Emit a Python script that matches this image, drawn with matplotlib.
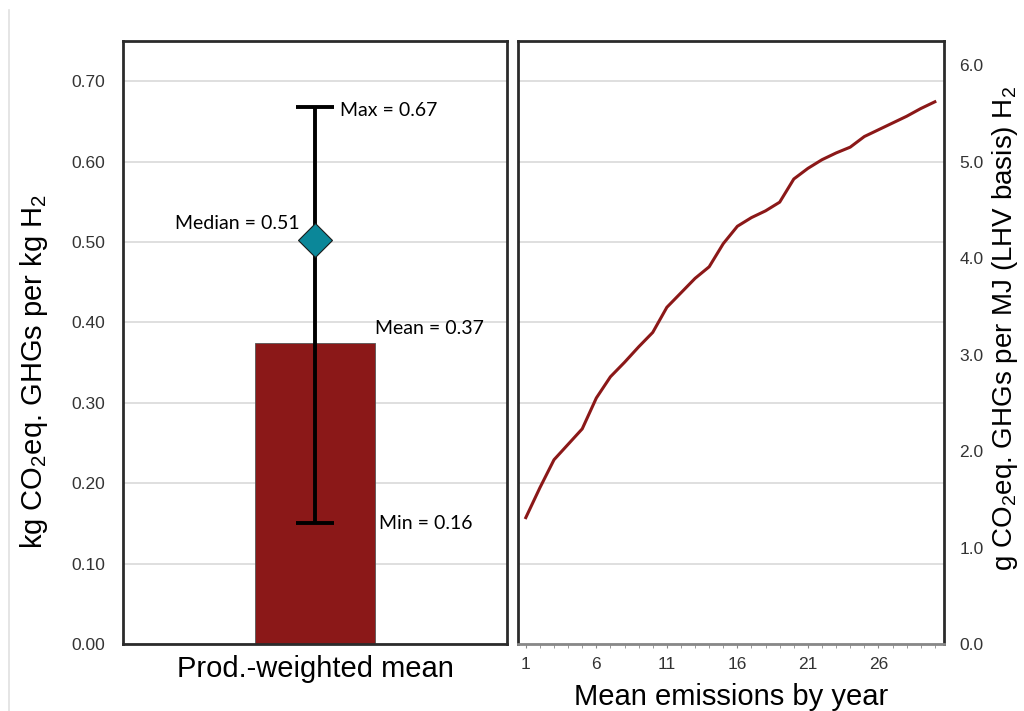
import numpy as np
import matplotlib
matplotlib.use("Agg")
import matplotlib.pyplot as plt
from matplotlib.lines import Line2D

plt.rcParams['font.family'] = ['Liberation Sans', 'DejaVu Sans']
plt.rcParams['mathtext.default'] = 'regular'

# --- data ---
category = ["Prod.-weighted mean"]
mean_val = 0.375
median_val = 0.502
max_val = 0.668
min_val = 0.15
stat_labels = ["Max = 0.67", "Median = 0.51", "Mean = 0.37", "Min = 0.16"]

years = np.arange(1, 31)
# g CO2eq per MJ H2 (LHV), mean emissions by year
yearly_gmj = [1.31, 1.62, 1.91, 2.07, 2.23, 2.55, 2.77, 2.92, 3.08, 3.23,
              3.49, 3.64, 3.79, 3.91, 4.15, 4.33, 4.42, 4.49, 4.58, 4.82,
              4.93, 5.02, 5.09, 5.15, 5.26, 5.33, 5.40, 5.47, 5.55, 5.62]

LHV = 120.0  # MJ per kg H2
to_gmj = lambda v: v * 1000.0 / LHV
to_kg = lambda v: v * LHV / 1000.0

bar_col = '#8b1818'
grid_col = '#d9d9d9'
spine_col = '#2b2b2b'

fig = plt.figure(figsize=(10.24, 7.11), dpi=100)
ax1 = fig.add_axes([0.1201, 0.0942, 0.3750, 0.8481])
ax2 = fig.add_axes([0.5059, 0.0942, 0.4160, 0.8481])

# --- left panel: bar + range ---
x0 = 0
ax1.bar(x0, mean_val, width=0.31, color=bar_col, edgecolor='#555555', linewidth=0.6, zorder=2)
ax1.errorbar(x0, median_val, yerr=[[median_val - min_val], [max_val - median_val]],
             fmt='none', ecolor='black', elinewidth=2.8, capsize=14, capthick=2.8, zorder=3)
ax1.plot(x0, median_val, marker='D', markersize=17, color='#0b8799',
         markeredgecolor='#1a1a1a', markeredgewidth=0.8, zorder=4)

afont = dict(family=['Lato', 'DejaVu Sans'], fontsize=14)
ax1.text(0.065, max_val - 0.005, stat_labels[0], va='center', ha='left', **afont)
ax1.text(-0.04, median_val + 0.021, stat_labels[1], va='center', ha='right', **afont)
ax1.text(0.155, mean_val + 0.017, stat_labels[2], va='center', ha='left', **afont)
ax1.text(0.168, min_val, stat_labels[3], va='center', ha='left', **afont)

ax1.set_xlim(-0.5, 0.5)
ax1.set_ylim(0, 0.75)
ax1.set_yticks(np.arange(0, 0.71, 0.1))
ax1.set_yticklabels([f"{v:.2f}" for v in np.arange(0, 0.71, 0.1)])
ax1.set_xticks([])
ax1.set_xlabel(category[0], fontsize=21, labelpad=8)
ax1.set_ylabel("kg CO$_2$eq. GHGs per kg H$_2$", fontsize=21)
ax1.yaxis.set_label_coords(-0.19, 0.452)
ax1.tick_params(axis='y', length=0, pad=13, labelsize=12.5, labelcolor='#333333')
ax1.grid(axis='y', color=grid_col, linewidth=1.2, zorder=0)
ax1.set_axisbelow(True)
for s in ax1.spines.values():
    s.set_color(spine_col)
    s.set_linewidth(2)

# --- right panel: yearly line ---
ax2.plot(years, [to_kg(v) for v in yearly_gmj], color=bar_col, linewidth=2.2, zorder=3)
ax2.set_xlim(0.45, 30.65)
ax2.set_ylim(0, 0.75)
ax2.set_yticks(np.arange(0, 0.71, 0.1))
ax2.tick_params(axis='y', left=False, labelleft=False)
ax2.grid(axis='y', color=grid_col, linewidth=1.2, zorder=0)
ax2.set_xticks(np.arange(1, 27, 5))
ax2.set_xticks(years, minor=True)
ax2.tick_params(axis='x', which='major', length=3, color='#888888', pad=6,
                labelsize=12.5, labelcolor='#333333')
ax2.tick_params(axis='x', which='minor', length=3, color='#888888')
ax2.set_xlabel("Mean emissions by year", fontsize=21, labelpad=8)
for k, s in ax2.spines.items():
    s.set_color(spine_col)
    s.set_linewidth(2)
ax2.spines['bottom'].set_color('#888888')

sec = ax2.secondary_yaxis('right', functions=(to_gmj, to_kg))
sec.set_yticks(np.arange(0, 6.1, 1.0))
sec.set_yticklabels([f"{v:.1f}" for v in np.arange(0, 6.1, 1.0)])
sec.tick_params(length=0, pad=11, labelsize=12.5, labelcolor='#333333')
sec.spines['right'].set_visible(False)
sec.set_ylabel("g CO$_2$eq. GHGs per MJ (LHV basis) H$_2$", fontsize=20)
sec.yaxis.set_label_coords(1.108, 0.523, transform=ax2.transAxes)

# faint vertical rule on the far left
fig.add_artist(Line2D([0.009, 0.009], [0.0, 0.986], color='#e0e0e0', linewidth=1.2))

fig.savefig("out.png", dpi=100, facecolor='white')
